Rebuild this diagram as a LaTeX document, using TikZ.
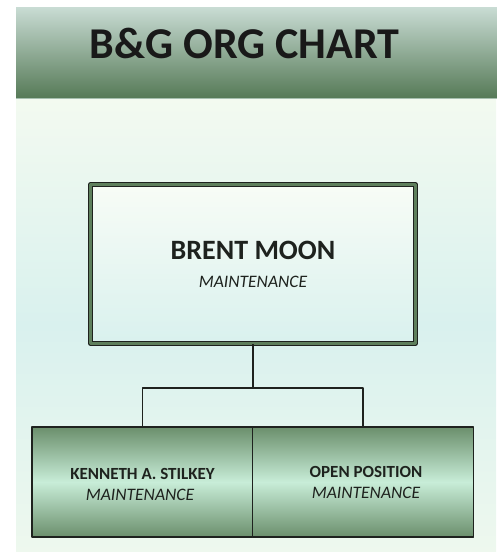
\documentclass[tikz,border=0pt]{standalone}
\usepackage{fontspec}
\setmainfont{Carlito}
\usepackage{tikz}
\usetikzlibrary{calc}
\definecolor{hdtop}{HTML}{C9DCD4}
\definecolor{hdbot}{HTML}{567A57}
\definecolor{bgtop}{HTML}{F3FAF0}
\definecolor{bgmid}{HTML}{D9F1EE}
\definecolor{bgbot}{HTML}{EEF8EE}
\definecolor{boxdark}{HTML}{6B8F6C}
\definecolor{boxlight}{HTML}{C8EDD8}
\definecolor{rim}{HTML}{5E7F5C}
\definecolor{ink}{HTML}{1E221E}
\tikzset{
  bossbox/.style={draw=ink, line width=1.3pt, double=rim, double distance=2.6pt,
    top color=bgtop!60!white, bottom color=bgmid, minimum width=324.5pt,
    minimum height=159pt, inner sep=0pt},
  staffbox/.style={draw=ink, line width=1.5pt, top color=boxdark, bottom color=boxdark,
    middle color=boxlight, minimum width=221pt, minimum height=110pt, inner sep=0pt},
  link/.style={draw=ink, line width=1.5pt},
  bigname/.style={font=\fontsize{28}{32}\selectfont\bfseries, anchor=base, text=ink},
  smallname/.style={font=\fontsize{17}{20}\selectfont\bfseries, anchor=base, text=ink},
  role/.style={font=\fontsize{17.5}{20}\selectfont\itshape, anchor=base, text=ink}
}
\begin{document}
\begin{tikzpicture}[x=1pt, y=-1pt, line join=round]
        \useasboundingbox (0,0) rectangle (497,552);
        % background and header band
        \shade[top color=bgtop, bottom color=bgbot, middle color=bgmid] (16,98) rectangle (496,552);
        \shade[top color=hdtop, bottom color=hdbot] (16,7) rectangle (497,98);
        \draw[color=hdtop!70!hdbot, line width=1pt] (16,98.5) -- (497,98.5);
        \node[font=\fontsize{44}{50}\selectfont\bfseries, anchor=base, text=black!90] (title) at (244.5,58) {B\&G ORG CHART};

        % boxes
        \node[bossbox] (boss) at (253,264) {};
        \node[staffbox] (stilkey) at (142.5,482) {};
        \node[staffbox] (open) at (363,482) {};

        \node[bigname] (bossname) at (253,259) {BRENT MOON};
        \node[role] (bossrole) at (253,287) {MAINTENANCE};
        \node[smallname] (stilkeyname) at (142.5,479) {KENNETH A. STILKEY};
        \node[role] (stilkeyrole) at (140,500) {MAINTENANCE};
        \node[smallname] (openname) at (366,477) {OPEN POSITION};
        \node[role] (openrole) at (366,498) {MAINTENANCE};

        % connectors
        \coordinate (bar) at (253,388);
        \draw[link] (boss.south) -- (bar);
        \draw[link] (stilkey.north) |- (bar) -| (open.north);
\end{tikzpicture}
\end{document}
